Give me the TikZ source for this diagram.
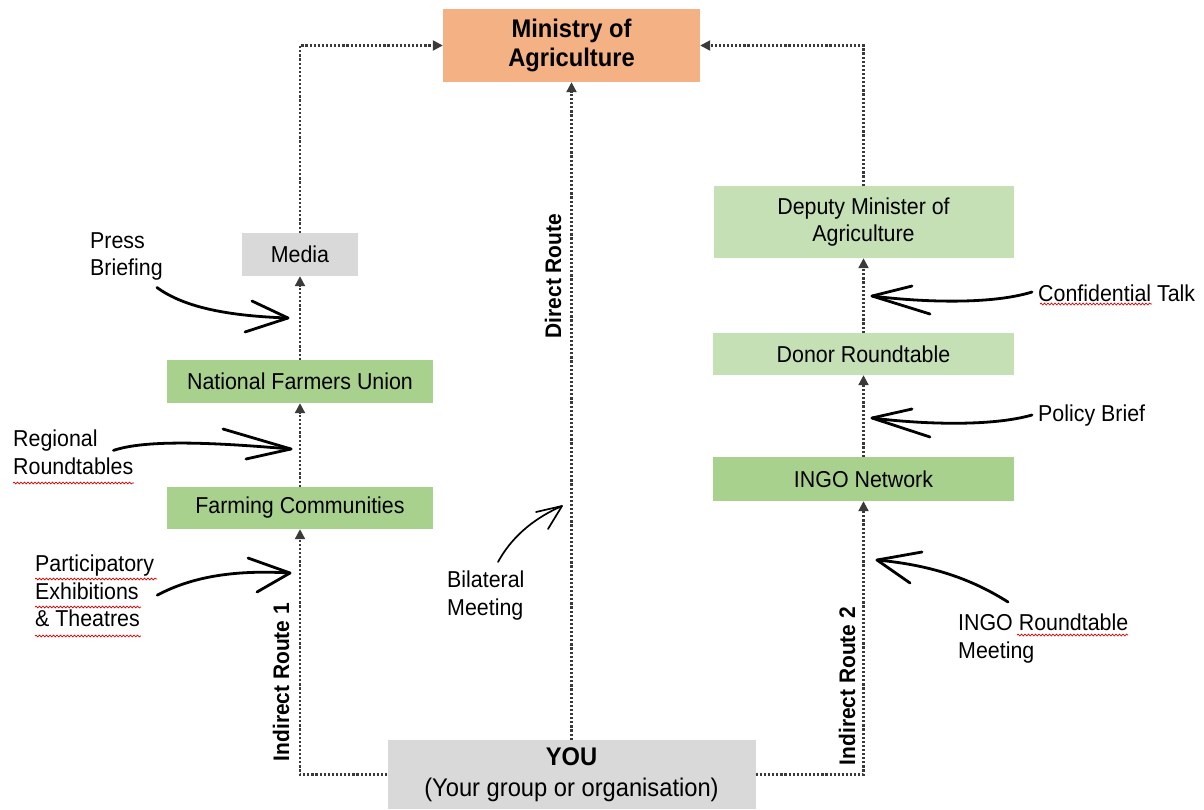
\documentclass[tikz,border=0pt]{standalone}
\usepackage{fontspec}
\setmainfont{Liberation Sans}[FakeStretch=0.93]
\usetikzlibrary{arrows.meta,decorations.pathmorphing}
\definecolor{box-orange}{HTML}{F4B183}
\definecolor{box-grey}{HTML}{D9D9D9}
\definecolor{box-green}{HTML}{A9D18E}
\definecolor{box-lightgreen}{HTML}{C5E0B4}
\definecolor{route-grey}{HTML}{3A3A3A}
\tikzset{
    plain-box/.style = {rectangle, inner sep=0pt, align=center, text=black, font=\fontsize{23}{27}\selectfont},
    grey-box/.style = {plain-box, fill=box-grey},
    green-box/.style = {plain-box, fill=box-green},
    lightgreen-box/.style = {plain-box, fill=box-lightgreen},
    route/.style = {draw=route-grey, line width=2.2pt, dash pattern=on 2.2pt off 1.9pt, -{Triangle[length=10pt,width=10pt]}},
    route-label/.style = {rotate=90, inner sep=0pt, font=\fontsize{22.5}{27}\selectfont\bfseries},
    note/.style = {align=left, inner sep=0pt, font=\fontsize{23}{27.5}\selectfont},
    hand/.style = {black, line width=2.8pt, line cap=round, line join=round},
    spell/.style = {draw=red!85!black, line width=0.7pt, decorate, decoration={snake, amplitude=0.9pt, segment length=3.5pt}},
}
\begin{document}
\begin{tikzpicture}[x=1pt, y=-1pt]
\useasboundingbox (0,0) rectangle (1204,809);

% boxes
\node [plain-box, fill=box-orange, minimum width=257pt, minimum height=73pt, font=\fontsize{25.5}{29}\selectfont\bfseries] (ministry) at (571.5,45.5) {Ministry of\\Agriculture};
\node [grey-box, minimum width=116pt, minimum height=43pt] (media) at (300,254.5) {Media};
\node [green-box, minimum width=266pt, minimum height=43pt] (union) at (300,381.5) {National Farmers Union};
\node [green-box, minimum width=266pt, minimum height=42pt] (farming) at (300,508) {Farming Communities};
\node [lightgreen-box, minimum width=300pt, minimum height=72pt] (deputy) at (863.5,222) {Deputy Minister of\\Agriculture};
\node [lightgreen-box, minimum width=301pt, minimum height=42pt] (donor) at (863.5,354) {Donor Roundtable};
\node [green-box, minimum width=301pt, minimum height=44pt] (ingo) at (863.5,479) {INGO Network};
\node [grey-box, minimum width=368pt, minimum height=69pt, font=\fontsize{25.5}{31}\selectfont] (you) at (571.5,774.5) {\textbf{YOU}\\(Your group or organisation)};

% routes
\draw [route] (you.west) -| (farming.south);
\draw [route] (farming.north) -- (union.south);
\draw [route] (union.north) -- (media.south);
\draw [route] (media.north) |- (ministry.west);
\draw [route] (you.north) -- (ministry.south);
\draw [route] (you.east) -| (ingo.south);
\draw [route] (ingo.north) -- (donor.south);
\draw [route] (donor.north) -- (deputy.south);
\draw [route] (deputy.north) |- (ministry.east);

\node [route-label] (route-one) at (281,682) {Indirect Route 1};
\node [route-label] (route-two) at (847,686) {Indirect Route 2};
\node [route-label] (route-direct) at (553,276) {Direct Route};

% notes
\node [note, anchor=north west] (press) at (90,232) {Press\\Briefing};
\node [note, anchor=north west] (regional) at (13,430) {Regional\\Roundtables};
\node [note, anchor=north west] (exhibit) at (35,555) {Participatory\\Exhibitions\\\& Theatres};
\node [note, anchor=north west] (bilateral) at (447,571) {Bilateral\\Meeting};
\node [note, anchor=west] (talk) at (1038,293) {Confidential Talk};
\node [note, anchor=west] (brief) at (1038,416) {Policy Brief};
\node [note, anchor=north west] (ingo-meeting) at (958,614) {INGO Roundtable\\Meeting};

\coordinate (press-tip) at (288,318);
\coordinate (regional-tip) at (291,449);
\coordinate (exhibit-tip) at (290,573);
\coordinate (bilateral-tip) at (562,506);
\coordinate (talk-tip) at (872,296);
\coordinate (brief-tip) at (872,418);
\coordinate (meeting-tip) at (877,560);

\draw [hand] ([xshift=-6pt,yshift=-7pt]press.south east) .. controls (185,308) and (230,316) .. (press-tip);
\draw [hand] (press-tip) -- +(-36,-17) (press-tip) -- +(-43,14);
\draw [hand] ([xshift=-20pt,yshift=2pt]regional.east) .. controls (150,438) and (230,444) .. (regional-tip);
\draw [hand] (regional-tip) -- +(-68,-20) (regional-tip) -- +(-45,10);
\draw [hand] ([xshift=3pt,yshift=-4pt]exhibit.east) .. controls (195,575) and (240,570) .. (exhibit-tip);
\draw [hand] (exhibit-tip) -- +(-42,-15) (exhibit-tip) -- +(-33,19);
\draw [hand, line width=1.7pt] ([xshift=51pt,yshift=9pt]bilateral.north west) .. controls (510,540) and (530,520) .. (bilateral-tip);
\draw [hand, line width=1.7pt] (bilateral-tip) -- +(-26,6) (bilateral-tip) -- +(-14,23);
\draw [hand] ([xshift=-6pt,yshift=1pt]talk.west) .. controls (990,305) and (920,302) .. (talk-tip);
\draw [hand] (talk-tip) -- +(40,-10) (talk-tip) -- +(58,18);
\draw [hand] ([xshift=-6pt,yshift=1pt]brief.west) .. controls (990,427) and (920,424) .. (brief-tip);
\draw [hand] (brief-tip) -- +(40,-9) (brief-tip) -- +(58,19);
\draw [hand] ([xshift=50pt,yshift=12pt]ingo-meeting.north west) .. controls (970,578) and (930,565) .. (meeting-tip);
\draw [hand] (meeting-tip) -- +(45,-8) (meeting-tip) -- +(33,23);

% spelling marks
\draw [spell] (13,483) -- (134,483);
\draw [spell] (35,579) -- (157,579);
\draw [spell] (35,607) -- (141,607);
\draw [spell] (35,636) -- (141,636);
\draw [spell] (1040,304) -- (1152,304);
\draw [spell] (1017,635) -- (1128,635);
\end{tikzpicture}
\end{document}
